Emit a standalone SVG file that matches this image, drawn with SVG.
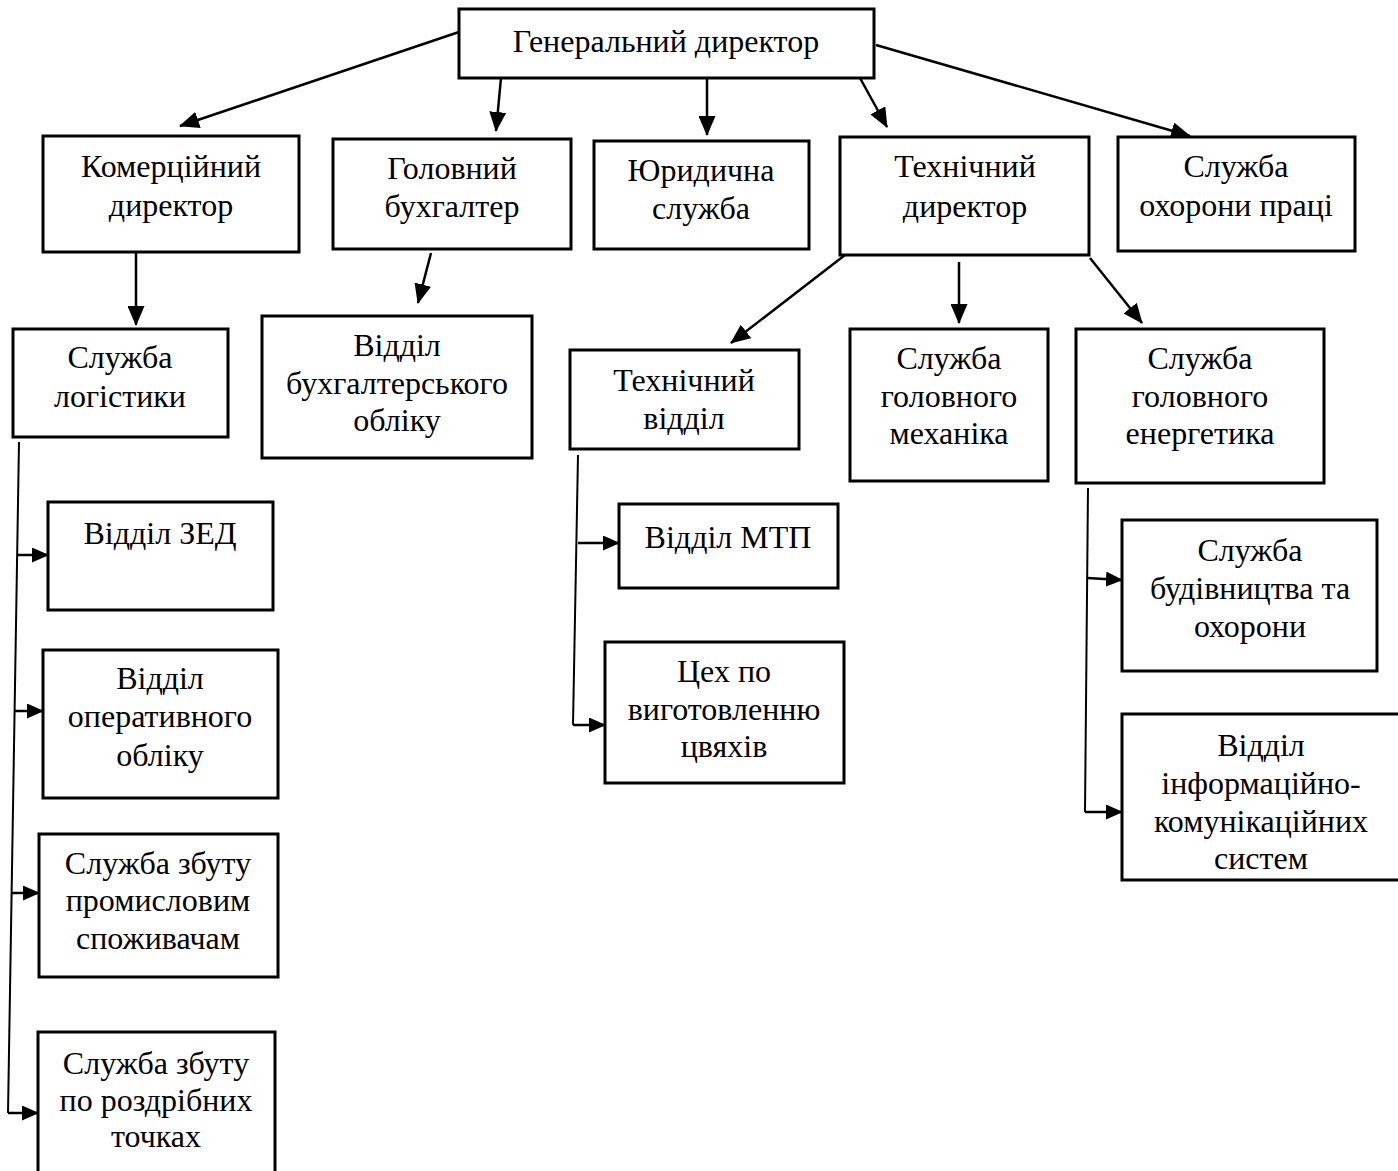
<svg xmlns="http://www.w3.org/2000/svg" width="1398" height="1171" viewBox="0 0 1398 1171">
<style>
rect.b{fill:#fff;stroke:#000;stroke-width:3}
text{font-family:"Liberation Serif","Times New Roman",serif;font-size:32px;fill:#000;text-anchor:middle}
.c path{fill:none;stroke:#000;stroke-width:2.5}
.c path.a{marker-end:url(#ah)}
.c path.s{marker-end:url(#as)}
.c path.v{stroke-width:2}
</style>
<defs>
<marker id="ah" markerUnits="userSpaceOnUse" markerWidth="20" markerHeight="17" refX="19" refY="8.5" orient="auto"><path d="M0,0 L20,8.5 L0,17 z" fill="#000"/></marker>
<marker id="as" markerUnits="userSpaceOnUse" markerWidth="17" markerHeight="15" refX="16" refY="7.5" orient="auto"><path d="M0,0 L17,7.5 L0,15 z" fill="#000"/></marker>
</defs>
<rect width="1398" height="1171" fill="#fff"/>
<g class="c" id="connectors">
<path class="a" d="M459,32 L180,126"/>
<path class="a" d="M501,78 L496,131"/>
<path class="a" d="M707,78 L707,135"/>
<path class="a" d="M860,78 L887,127"/>
<path class="a" d="M876,45 L1190,136"/>
<path class="a" d="M136,252 L136,325"/>
<path class="a" d="M431,253 L418,303"/>
<path class="a" d="M845,255 L731,343"/>
<path class="a" d="M959,262 L959,323"/>
<path class="a" d="M1090,258 L1142,323"/>
<path class="v" d="M19,442 L8,1113"/>
<path class="s" d="M17,555 L48,555"/>
<path class="s" d="M15,711 L43,711"/>
<path class="s" d="M12,893 L39,893"/>
<path class="s" d="M8,1113 L38,1113"/>
<path class="v" d="M578,455 L573,725"/>
<path class="s" d="M578,543 L619,543"/>
<path class="s" d="M573,725 L605,725"/>
<path class="v" d="M1088,488 L1085,812"/>
<path class="s" d="M1087,578 L1122,580"/>
<path class="s" d="M1085,812 L1122,812"/>
</g>
<g id="gen"><rect class="b" x="459" y="9" width="415" height="69"/><text x="666" y="52">Генеральний директор</text></g>
<g id="komm"><rect class="b" x="43" y="136" width="256" height="116"/><text x="171" y="177">Комерційний</text><text x="171" y="216">директор</text></g>
<g id="buh"><rect class="b" x="333" y="139" width="238" height="110"/><text x="452" y="179">Головний</text><text x="452" y="217">бухгалтер</text></g>
<g id="yur"><rect class="b" x="594" y="141" width="215" height="108"/><text x="701" y="181">Юридична</text><text x="701" y="219">служба</text></g>
<g id="techdir"><rect class="b" x="840" y="137" width="249" height="118"/><text x="965" y="177">Технічний</text><text x="965" y="217">директор</text></g>
<g id="okh"><rect class="b" x="1118" y="137" width="237" height="114"/><text x="1236" y="177">Служба</text><text x="1236" y="216">охорони праці</text></g>
<g id="log"><rect class="b" x="13" y="329" width="215" height="108"/><text x="120" y="368">Служба</text><text x="120" y="407">логістики</text></g>
<g id="vidbuh"><rect class="b" x="262" y="316" width="270" height="142"/><text x="397" y="356">Відділ</text><text x="397" y="394">бухгалтерського</text><text x="397" y="431">обліку</text></g>
<g id="techvid"><rect class="b" x="570" y="350" width="229" height="99"/><text x="684" y="391">Технічний</text><text x="684" y="429">відділ</text></g>
<g id="mech"><rect class="b" x="850" y="329" width="198" height="152"/><text x="949" y="369">Служба</text><text x="949" y="407">головного</text><text x="949" y="444">механіка</text></g>
<g id="energ"><rect class="b" x="1076" y="329" width="248" height="154"/><text x="1200" y="369">Служба</text><text x="1200" y="407">головного</text><text x="1200" y="444">енергетика</text></g>
<g id="zed"><rect class="b" x="48" y="502" width="225" height="108"/><text x="160" y="544">Відділ ЗЕД</text></g>
<g id="oper"><rect class="b" x="43" y="650" width="235" height="148"/><text x="160" y="689">Відділ</text><text x="160" y="727">оперативного</text><text x="160" y="766">обліку</text></g>
<g id="promysl"><rect class="b" x="39" y="834" width="239" height="143"/><text x="158" y="874">Служба збуту</text><text x="158" y="911">промисловим</text><text x="158" y="949">споживачам</text></g>
<g id="rozdrib"><rect class="b" x="38" y="1032" width="237" height="150"/><text x="156" y="1074">Служба збуту</text><text x="156" y="1111">по роздрібних</text><text x="156" y="1147">точках</text></g>
<g id="mtp"><rect class="b" x="619" y="504" width="219" height="84"/><text x="728" y="548">Відділ МТП</text></g>
<g id="tsekh"><rect class="b" x="605" y="642" width="239" height="141"/><text x="724" y="682">Цех по</text><text x="724" y="720">виготовленню</text><text x="724" y="757">цвяхів</text></g>
<g id="budiv"><rect class="b" x="1122" y="520" width="255" height="151"/><text x="1250" y="561">Служба</text><text x="1250" y="599">будівництва та</text><text x="1250" y="637">охорони</text></g>
<g id="inform"><rect class="b" x="1122" y="714" width="278" height="166"/><text x="1261" y="756">Відділ</text><text x="1261" y="794">інформаційно-</text><text x="1261" y="832">комунікаційних</text><text x="1261" y="869">систем</text></g>
</svg>
